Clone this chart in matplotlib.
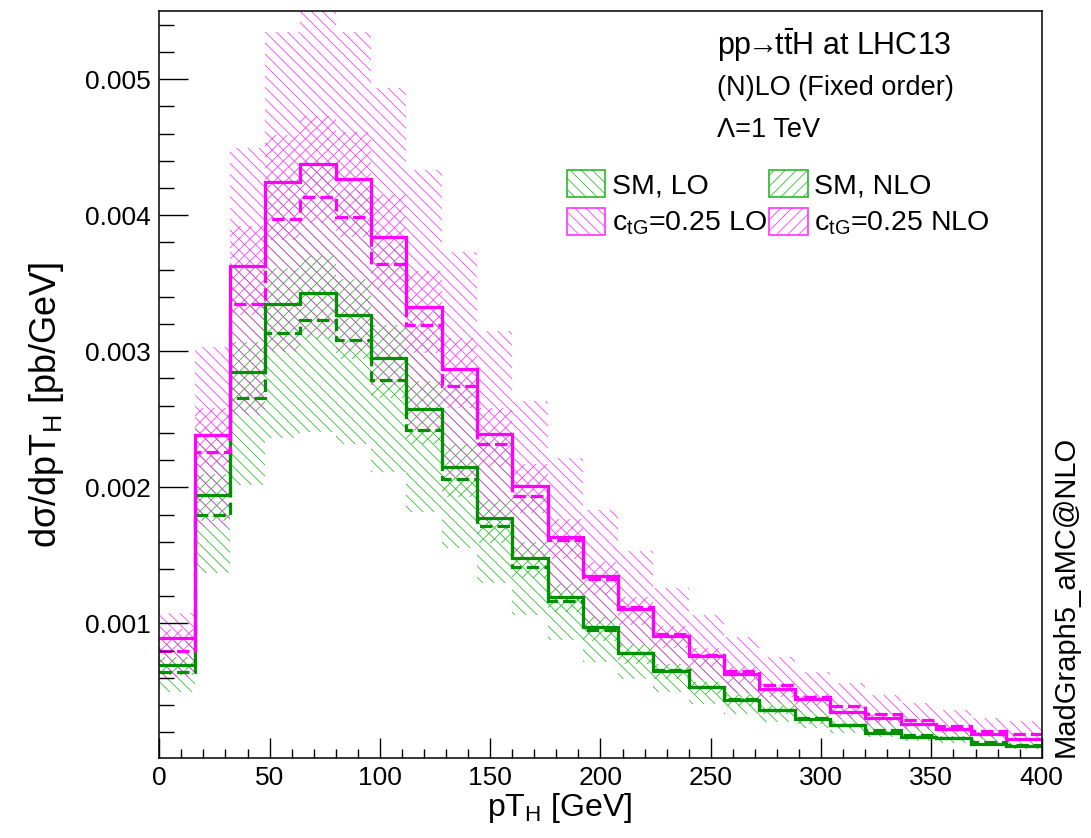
import numpy as np
import matplotlib
matplotlib.use('Agg')
import matplotlib.pyplot as plt
from matplotlib.ticker import MultipleLocator
from matplotlib.patches import Rectangle

plt.rcParams['font.family'] = ['Liberation Sans', 'DejaVu Sans']
plt.rcParams['mathtext.fontset'] = 'custom'
plt.rcParams['mathtext.rm'] = 'Liberation Sans'
plt.rcParams['mathtext.it'] = 'Liberation Sans:italic'
plt.rcParams['mathtext.bf'] = 'Liberation Sans:bold'
plt.rcParams['hatch.linewidth'] = 0.55

# pT_H bins (GeV), 16 GeV wide
edges = np.arange(0, 401, 16)

# central values, units of 1e-3 pb/GeV
sm_lo = np.array([0.640, 1.796, 2.660, 3.132, 3.230, 3.083, 2.789, 2.420, 2.059, 1.715, 1.414, 1.166, 0.951,
                  0.785, 0.655, 0.535, 0.440, 0.366, 0.302, 0.252, 0.215, 0.179, 0.158, 0.127, 0.105]) * 1e-3
sm_nlo = np.array([0.693, 1.943, 2.846, 3.346, 3.429, 3.265, 2.951, 2.576, 2.147, 1.772, 1.478, 1.196, 0.971,
                   0.779, 0.651, 0.529, 0.436, 0.362, 0.294, 0.252, 0.196, 0.166, 0.154, 0.113, 0.100]) * 1e-3
ctg_lo = np.array([0.799, 2.262, 3.348, 3.971, 4.132, 3.985, 3.642, 3.196, 2.746, 2.316, 1.936, 1.615, 1.328,
                   1.118, 0.919, 0.769, 0.646, 0.546, 0.460, 0.392, 0.333, 0.289, 0.245, 0.210, 0.184]) * 1e-3
ctg_nlo = np.array([0.890, 2.385, 3.629, 4.247, 4.377, 4.267, 3.843, 3.325, 2.872, 2.392, 2.010, 1.635, 1.347,
                    1.105, 0.909, 0.760, 0.625, 0.515, 0.441, 0.350, 0.301, 0.257, 0.221, 0.184, 0.151]) * 1e-3

# scale uncertainty bands (1e-3 pb/GeV)
sm_lo_up = np.array([0.870, 2.44, 3.62, 4.26, 4.39, 4.19, 3.79, 3.29, 2.80, 2.33, 1.92, 1.59, 1.31,
                     1.08, 0.90, 0.74, 0.61, 0.51, 0.42, 0.36, 0.30, 0.26, 0.23, 0.18, 0.16]) * 1e-3
sm_lo_dn = np.array([0.497, 1.368, 2.017, 2.36, 2.41, 2.32, 2.115, 1.821, 1.551, 1.294, 1.061, 0.880, 0.718,
                     0.593, 0.495, 0.406, 0.330, 0.276, 0.228, 0.191, 0.162, 0.135, 0.119, 0.096, 0.079]) * 1e-3
sm_nlo_up = np.array([0.75, 2.10, 3.07, 3.61, 3.70, 3.53, 3.19, 2.78, 2.32, 1.91, 1.60, 1.29, 1.05,
                      0.84, 0.70, 0.57, 0.47, 0.39, 0.32, 0.27, 0.21, 0.18, 0.17, 0.12, 0.11]) * 1e-3
sm_nlo_dn = np.array([0.62, 1.75, 2.56, 3.01, 3.09, 2.94, 2.66, 2.32, 1.93, 1.59, 1.33, 1.08, 0.87,
                      0.70, 0.59, 0.48, 0.39, 0.33, 0.26, 0.23, 0.18, 0.15, 0.14, 0.10, 0.09]) * 1e-3
ctg_lo_up = np.array([1.074, 3.034, 4.497, 5.35, 5.50, 5.35, 4.934, 4.333, 3.732, 3.151, 2.634, 2.213, 1.833,
                      1.534, 1.257, 1.061, 0.901, 0.754, 0.644, 0.559, 0.473, 0.416, 0.363, 0.301, 0.280]) * 1e-3
ctg_lo_dn = np.array([0.603, 1.708, 2.528, 2.998, 3.120, 3.009, 2.750, 2.413, 2.073, 1.749, 1.462, 1.219, 1.003,
                      0.844, 0.694, 0.581, 0.488, 0.412, 0.347, 0.296, 0.251, 0.218, 0.185, 0.159, 0.139]) * 1e-3
ctg_nlo_up = np.array([0.96, 2.58, 3.92, 4.59, 4.73, 4.61, 4.15, 3.59, 3.10, 2.58, 2.17, 1.77, 1.45,
                       1.19, 0.98, 0.82, 0.68, 0.56, 0.48, 0.38, 0.33, 0.28, 0.24, 0.20, 0.16]) * 1e-3
ctg_nlo_dn = np.array([0.80, 2.15, 3.27, 3.82, 3.94, 3.84, 3.46, 2.99, 2.58, 2.15, 1.81, 1.47, 1.21,
                       0.99, 0.82, 0.68, 0.56, 0.46, 0.40, 0.32, 0.27, 0.23, 0.20, 0.17, 0.14]) * 1e-3

labels = ['SM, LO', 'SM, NLO', r'c$_{\rm tG}$=0.25 LO', r'c$_{\rm tG}$=0.25 NLO']

green = '#009100'
green_h = '#22bb22'
magenta = '#ff00ff'
magenta_h = '#ff33ff'

fig = plt.figure(figsize=(10.91, 8.38), dpi=100)
ax = fig.add_axes([0.146, 0.0958, 0.8088, 0.8911])


def band(lo, hi, col, hatch):
    ax.fill_between(edges, np.append(lo, lo[-1]), np.append(hi, hi[-1]), step='post',
                    facecolor='none', edgecolor=col, linewidth=0, hatch=hatch)


band(sm_lo_dn, sm_lo_up, green_h, '\\\\\\')
band(sm_nlo_dn, sm_nlo_up, green_h, '///')
band(ctg_lo_dn, ctg_lo_up, magenta_h, '\\\\\\')
band(ctg_nlo_dn, ctg_nlo_up, magenta_h, '///')

dash = (0, (3.9, 1.6))
ax.stairs(sm_lo, edges, baseline=None, color=green, lw=2.3, linestyle=dash)
ax.stairs(sm_nlo, edges, baseline=None, color=green, lw=2.3)
ax.stairs(ctg_lo, edges, baseline=None, color=magenta, lw=2.3, linestyle=dash)
ax.stairs(ctg_nlo, edges, baseline=None, color=magenta, lw=2.3)

ax.set_xlim(0, 400)
ax.set_ylim(0.0000118, 0.005502)

ax.set_xticks(np.arange(0, 401, 50))
ax.xaxis.set_minor_locator(MultipleLocator(10))
ax.set_yticks([0.001, 0.002, 0.003, 0.004, 0.005], ['0.001', '0.002', '0.003', '0.004', '0.005'])
ax.yaxis.set_minor_locator(MultipleLocator(0.0002))
ax.tick_params(axis='both', which='both', direction='in', width=1.0, labelsize=19, colors='black')
ax.tick_params(axis='x', which='major', length=14.6, pad=6)
ax.tick_params(axis='x', which='minor', length=6.7)
ax.tick_params(axis='y', which='major', length=20.9, pad=6)
ax.tick_params(axis='y', which='minor', length=10.6)
for s in ax.spines.values():
    s.set_linewidth(1.1)

fig.text(560 / 1091, 1 - 808 / 838, r'pT$_{\rm H}$ [GeV]', fontsize=23, ha='center', va='center')
fig.text(47 / 1091, 1 - 405 / 838, r'dσ/dpT$_{\rm H}$ [pb/GeV]', fontsize=26,
         rotation=90, ha='center', va='center')
fig.text(1066 / 1091, 1 - 757 / 838, 'MadGraph5_aMC@NLO', fontsize=21, rotation=90,
         ha='center', va='bottom')

fig.text(717 / 1091, 1 - 55 / 838, r'pp$\!\!\rightarrow\!\!$t$\bar{\rm t}$H at LHC13', fontsize=22, va='baseline')
fig.text(717 / 1091, 1 - 95 / 838, '(N)LO (Fixed order)', fontsize=19.5, va='baseline')
fig.text(717 / 1091, 1 - 136.7 / 838, 'Λ=1 TeV', fontsize=19.5, va='baseline')

# legend boxes
box_x = [566.7, 769.3, 566.7, 769.3]
box_y = [170, 170, 208.3, 208.3]
base_y = [193.5, 193.5, 230, 230]
box_col = [green_h, green_h, magenta_h, magenta_h]
box_hatch = ['\\\\\\', '///', '\\\\\\', '///']
for i in range(4):
    fig.patches.append(Rectangle((box_x[i] / 1091, 1 - (box_y[i] + 26.7) / 838), 38.3 / 1091, 26.7 / 838,
                                 transform=fig.transFigure, facecolor='none', edgecolor=box_col[i],
                                 hatch=box_hatch[i], lw=1.2))
    fig.text((box_x[i] + 45) / 1091, 1 - base_y[i] / 838, labels[i], fontsize=20.5, va='baseline')

fig.savefig('out.png', dpi=100)
